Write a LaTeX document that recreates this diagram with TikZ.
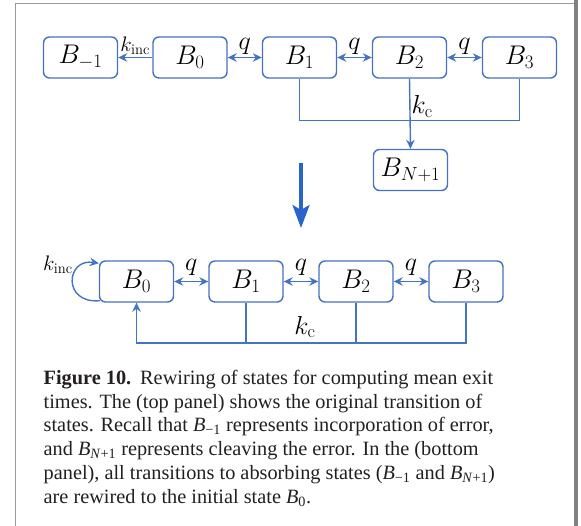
\RequirePackage{fix-cm}
\documentclass[tikz,border=0pt]{standalone}
\usepackage{fontspec}
\newfontfamily\capfont{Liberation Serif}
\usetikzlibrary{arrows.meta}
\definecolor{nodeblue}{RGB}{68,114,196}
\definecolor{bigblue}{RGB}{40,100,204}
\definecolor{framegray}{RGB}{128,128,128}
\definecolor{captext}{RGB}{35,31,32}
\begin{document}
\begin{tikzpicture}[x=1pt,y=-1pt,
  st/.style={draw=nodeblue, line width=1.4pt, rounded corners=6pt, minimum width=74pt, minimum height=41pt, inner sep=0pt, font=\fontsize{27}{30}\selectfont},
  ln/.style={draw=nodeblue, line width=1.4pt},
  arr/.style={ln, -{Stealth[length=9pt,width=8.5pt]}},
  darr/.style={ln, {Stealth[length=9pt,width=8.5pt]}-{Stealth[length=9pt,width=8.5pt]}},
  lab/.style={font=\fontsize{26}{29}\selectfont, inner sep=1pt},
  slab/.style={font=\fontsize{21}{24}\selectfont, inner sep=1pt},
  captionline/.style={font=\capfont\fontsize{20.3}{23.7}\selectfont, text=captext, inner sep=0pt, anchor=base west}]
\useasboundingbox (0,0) rectangle (581,526);
% frame
\draw[framegray!80, line width=1pt] (15,526) -- (15,4) -- (574,4);
\fill[framegray] (573.5,0) rectangle (577.5,526);
% top panel
\node[st] (tBm1) at (80.5,57.5) {$B_{-1}$};
\node[st] (tB0) at (190,57.5) {$B_0$};
\node[st] (tB1) at (299.5,57.5) {$B_1$};
\node[st] (tB2) at (409.5,57.5) {$B_2$};
\node[st] (tB3) at (519.5,57.5) {$B_3$};
\node[st] (tBN) at (410.5,170) {$B_{N+1}$};
\draw[arr] (tB0) -- node[slab, above=1pt] {$k_{\mathrm{inc}}$} (tBm1);
\draw[darr] (tB0) -- node[lab, above=1.5pt] {$q$} (tB1);
\draw[darr] (tB1) -- node[lab, above=1.5pt] {$q$} (tB2);
\draw[darr] (tB2) -- node[lab, above=1.5pt] {$q$} (tB3);
\coordinate (tj) at (410,120.5);
\draw[ln] (tB1.south) |- (tj) -| (tB3.south);
\draw[arr] (tB2.south) -- node[lab, right, pos=0.4] {$k_{\mathrm{c}}$} (tBN.north);
% big arrow
\coordinate (ba1) at (301,163);
\coordinate (ba2) at (301,228);
\draw[draw=bigblue, line width=3.3pt, -{Stealth[length=23pt,width=17pt,inset=5pt]}] (ba1) -- (ba2);
% bottom panel
\node[st] (bB0) at (136.5,281.5) {$B_0$};
\node[st] (bB1) at (246,281.5) {$B_1$};
\node[st] (bB2) at (356,281.5) {$B_2$};
\node[st] (bB3) at (466,281.5) {$B_3$};
\draw[darr] (bB0) -- node[lab, above=4pt] {$q$} (bB1);
\draw[darr] (bB1) -- node[lab, above=4pt] {$q$} (bB2);
\draw[darr] (bB2) -- node[lab, above=4pt] {$q$} (bB3);
\coordinate (bc) at (136.5,343);
\draw[arr] (bB3.south) |- (bc) -- (bB0.south);
\draw[ln] (bB1.south) -- (bB1.south |- bc);
\draw[ln] (bB2.south) -- (bB2.south |- bc);
\node[lab] (kc2) at (305,327) {$k_{\mathrm{c}}$};
\draw[arr] ([xshift=1pt,yshift=2pt]bB0.south west) .. controls (62,304) and (66,258) .. ([yshift=-3pt]bB0.north west);
\node[slab] (kinc2) at (58,265) {$k_{\mathrm{inc}}$};
% caption
\node[captionline] (c1a) at (43.5,384.5) {\bfseries Figure 10.};
\node[captionline] (c1b) at (140,384.5) {Rewiring of states for computing mean exit};
\node[captionline] (c2) at (43.5,408.2) {times. The (top panel) shows the original transition of};
\node[captionline] (c3) at (43.5,431.9) {states. Recall that \textit{B}\textsubscript{−1} represents incorporation of error,};
\node[captionline] (c4) at (43.5,455.6) {and \textit{B}\textsubscript{\textit{N}+1} represents cleaving the error. In the (bottom};
\node[captionline] (c5) at (43.5,479.3) {panel), all transitions to absorbing states (\textit{B}\textsubscript{−1} and \textit{B}\textsubscript{\textit{N}+1})};
\node[captionline] (c6) at (43.5,503) {are rewired to the initial state \textit{B}\textsubscript{0}.};
\end{tikzpicture}
\end{document}
